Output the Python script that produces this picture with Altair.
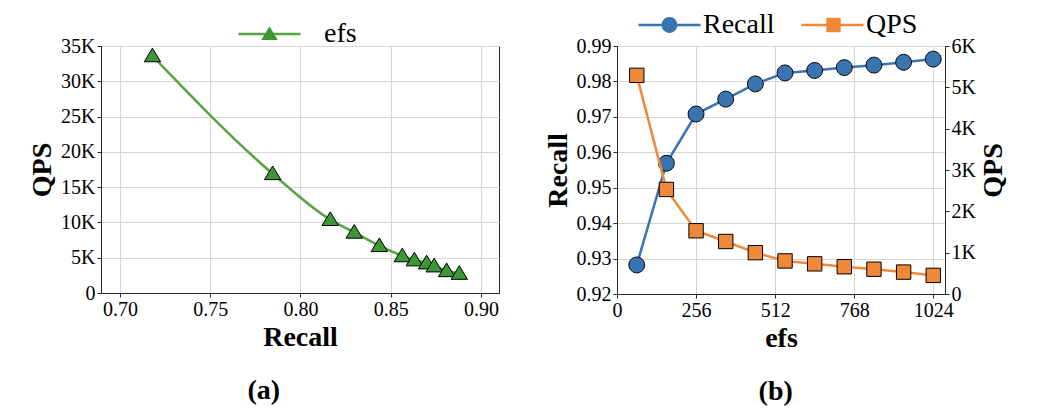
import altair as alt
import pandas as pd

# ---- data (a) ----
recall_a = [0.718, 0.7846, 0.8165, 0.8298, 0.8437, 0.8564, 0.8631, 0.8699, 0.8741, 0.8810, 0.888]
qps_a = [33600, 16900, 10400, 8600, 6700, 5260, 4680, 4250, 3820, 3150, 2770]

# ---- data (b) ----
efs_b = [64, 160, 256, 352, 448, 544, 640, 736, 832, 928, 1024]
recall_b = [0.9282, 0.9569, 0.9708, 0.9750, 0.9793, 0.9824, 0.9831, 0.9839, 0.9846, 0.9854, 0.9863]
qps_b = [5290, 2530, 1530, 1270, 1000, 800, 730, 660, 600, 530, 450]

a_x_ticks = [0.70, 0.75, 0.80, 0.85, 0.90]
a_y_ticks = [0, 5000, 10000, 15000, 20000, 25000, 30000, 35000]
b_x_ticks = [0, 256, 512, 768, 1024]
b_recall_ticks = [0.92, 0.93, 0.94, 0.95, 0.96, 0.97, 0.98, 0.99]
b_qps_ticks = [0, 1000, 2000, 3000, 4000, 5000, 6000]

FONT = "Liberation Serif"
GREEN_LINE = "#55a543"
GREEN_FILL = "#3e9736"
BLUE = "#3a74b0"
ORANGE = "#f0883a"

# symbol paths (unit box [-1,1]); invisible end points keep identical bounds
LINE_PATH = "M-1,0H1"
EXT = "M-1,0ZM1,0Z"
TRI_PATH = EXT + "M0,-0.25L0.265,0.19L-0.265,0.19Z"
CIRC_PATH = EXT + "M-0.255,0A0.255,0.255,0,1,1,0.255,0A0.255,0.255,0,1,1,-0.255,0Z"
SQ_PATH = EXT + "M-0.232,-0.232H0.232V0.232H-0.232Z"
SYM = 3844
KFMT = "datum.value == 0 ? '0' : (datum.value / 1000) + 'K'"
CLIP = 30

df_a = pd.DataFrame({"recall": recall_a, "qps": qps_a})
df_a["s_line"] = "efs"
df_a["s_pt"] = "efs_m"

base_a = alt.Chart(df_a).encode(
    x=alt.X("recall:Q", scale=alt.Scale(domain=[0.6895, 0.91], nice=False, zero=False),
            axis=alt.Axis(values=a_x_ticks, format=".2f", title="Recall")),
    y=alt.Y("qps:Q", scale=alt.Scale(domain=[0, 35000], nice=False),
            axis=alt.Axis(values=a_y_ticks, labelExpr=KFMT, title="QPS")),
)

LEG_A_X = 136
LEG_A_Y = -27
line_a = base_a.mark_line(strokeWidth=2.5, interpolate="monotone").encode(
    color=alt.Color("s_line:N", scale=alt.Scale(domain=["efs"], range=[GREEN_LINE]),
                    legend=alt.Legend(title=None, orient="none", legendX=LEG_A_X, legendY=LEG_A_Y,
                                      symbolType=LINE_PATH, symbolSize=SYM, symbolStrokeWidth=2.5,
                                      labelFont=FONT, labelFontSize=28, labelColor="black",
                                      labelOffset=22, labelLimit=0, padding=0, clipHeight=CLIP))
)
pt_a = base_a.mark_point(filled=True, opacity=1).encode(
    shape=alt.Shape("s_pt:N", scale=alt.Scale(domain=["efs_m"], range=[TRI_PATH]),
                    legend=alt.Legend(title=None, orient="none", legendX=LEG_A_X, legendY=LEG_A_Y,
                                      symbolSize=SYM, symbolStrokeWidth=1, symbolStrokeColor="black",
                                      symbolFillColor=GREEN_FILL, symbolOffset=1,
                                      labelFont=FONT, labelFontSize=28, labelOpacity=0,
                                      labelExpr="''",
                                      labelOffset=24, labelLimit=0, padding=0, clipHeight=CLIP)),
    fill=alt.value(GREEN_FILL),
    stroke=alt.value("black"),
    strokeWidth=alt.value(1),
    size=alt.value(SYM),
)
chart_a = alt.layer(line_a, pt_a).properties(
    width=398, height=247,
    title=alt.Title("(a)", orient="bottom", frame="bounds", anchor="middle", fontSize=28,
                    fontWeight="bold", font=FONT, color="black", offset=26),
)

# ---- chart (b) ----
df_r = pd.DataFrame({"efs": efs_b, "value": recall_b})
df_r["metric"] = "Recall"
df_r["metric_m"] = "Recall_m"
df_q = pd.DataFrame({"efs": efs_b, "value": qps_b})
df_q["metric"] = "QPS"
df_q["metric_m"] = "QPS_m"

xb = alt.X("efs:Q", scale=alt.Scale(domain=[0, 1062], nice=False, zero=False),
           axis=alt.Axis(values=b_x_ticks, format="d", title="efs"))

LEG_B_X = 20
LEG_B_Y = -36
color_b = alt.Color("metric:N", scale=alt.Scale(domain=["Recall", "QPS"], range=[BLUE, ORANGE]),
                    legend=alt.Legend(title=None, orient="none", direction="horizontal",
                                      legendX=LEG_B_X, legendY=LEG_B_Y,
                                      symbolType=LINE_PATH, symbolSize=SYM, symbolStrokeWidth=2.5,
                                      labelFont=FONT, labelFontSize=28, labelColor="black",
                                      labelOffset=1, labelLimit=0, columnPadding=25, padding=0,
                                      clipHeight=CLIP))
mk_leg = alt.Legend(title=None, orient="none", direction="horizontal",
                    legendX=LEG_B_X, legendY=LEG_B_Y,
                    symbolSize=SYM, symbolStrokeWidth=1, symbolStrokeColor="black",
                    symbolOffset=1, labelFont=FONT, labelFontSize=28, labelOpacity=0,
                    labelOffset=3, labelLimit=0, columnPadding=25, padding=0, clipHeight=CLIP,
                    labelExpr="replace(datum.label, '_m', '')")
shape_b = alt.Shape("metric_m:N", scale=alt.Scale(domain=["Recall_m", "QPS_m"], range=[CIRC_PATH, SQ_PATH]),
                    legend=mk_leg)
fill_b = alt.Fill("metric_m:N", scale=alt.Scale(domain=["Recall_m", "QPS_m"], range=[BLUE, ORANGE]),
                  legend=mk_leg)

yr = alt.Y("value:Q", scale=alt.Scale(domain=[0.92, 0.99], nice=False, zero=False),
           axis=alt.Axis(values=b_recall_ticks, format=".2f", title="Recall", orient="left"))
yq = alt.Y("value:Q", scale=alt.Scale(domain=[0, 6000], nice=False),
           axis=alt.Axis(values=b_qps_ticks, labelExpr=KFMT, title="QPS", orient="right",
                         grid=False, titleAngle=270, titleBaseline="top"))

base_r = alt.Chart(df_r).encode(x=xb, y=yr)
base_q = alt.Chart(df_q).encode(x=xb, y=yq)
mk = dict(filled=True, opacity=1)
layer_r = alt.layer(
    base_r.mark_line(strokeWidth=2.5).encode(color=color_b),
    base_r.mark_point(**mk).encode(shape=shape_b, fill=fill_b, stroke=alt.value("black"),
                                   strokeWidth=alt.value(1), size=alt.value(SYM)),
)
layer_q = alt.layer(
    base_q.mark_line(strokeWidth=2.5).encode(color=color_b),
    base_q.mark_point(**mk).encode(shape=shape_b, fill=fill_b, stroke=alt.value("black"),
                                   strokeWidth=alt.value(1), size=alt.value(SYM)),
)
chart_b = alt.layer(layer_r, layer_q).resolve_scale(y="independent").properties(
    width=328, height=248,
    title=alt.Title("(b)", orient="bottom", frame="bounds", anchor="middle", fontSize=28,
                    fontWeight="bold", font=FONT, color="black", offset=26),
)

chart = alt.hconcat(chart_a, chart_b, spacing=118, bounds="flush").resolve_scale(
    color="independent", shape="independent", fill="independent",
).resolve_legend(
    color="independent", shape="independent", fill="independent",
).properties(
    padding={"left": 28, "top": 9, "right": 5, "bottom": 5},
).configure_view(
    stroke="#262626", strokeWidth=1,
).configure_axis(
    labelFont=FONT, labelFontSize=20, labelColor="black",
    titleFont=FONT, titleFontSize=28, titleFontWeight="bold", titleColor="black",
    domainColor="#262626", tickColor="#262626", tickSize=4, labelPadding=2, titlePadding=4,
    gridColor="#d6d6d6", gridWidth=1, labelFlush=False, labelOverlap=False,
)

chart.save("out.html", embed_options={"renderer": "svg", "actions": False})
